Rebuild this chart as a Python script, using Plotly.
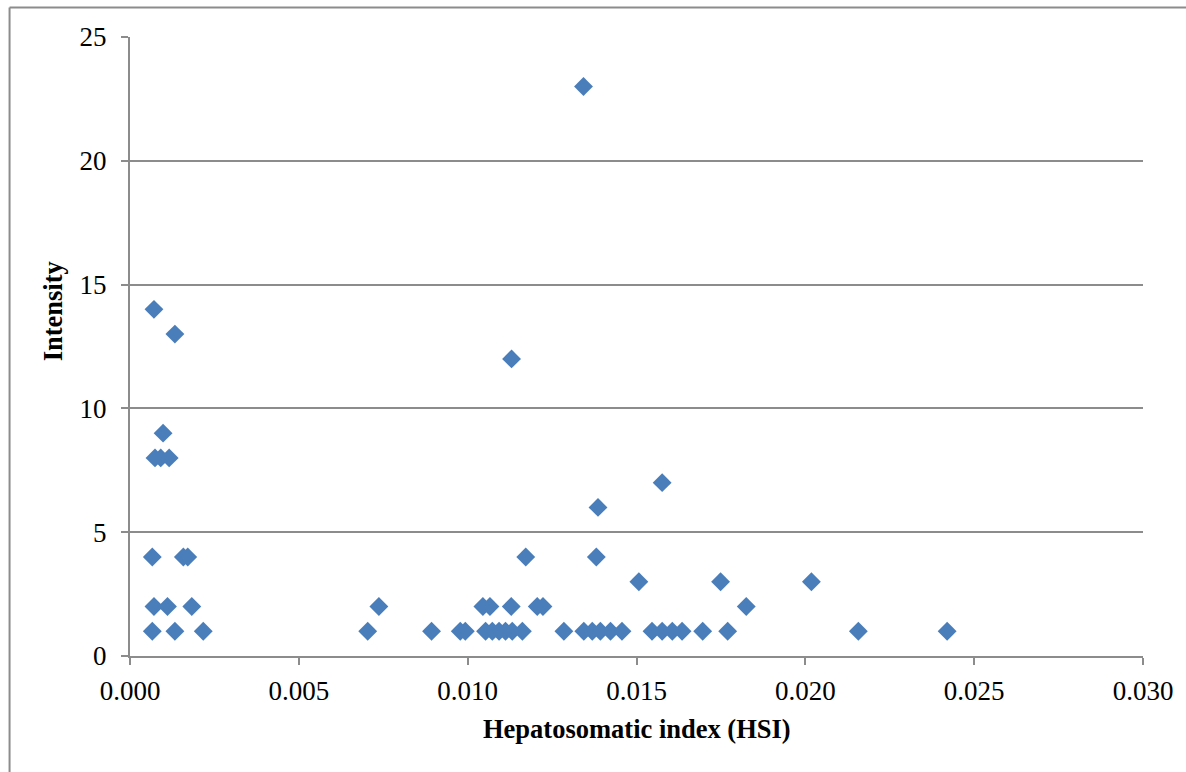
import plotly.graph_objects as go

hsi = [0.00071, 0.00133, 0.00098, 0.00074, 0.00091, 0.00116, 0.00066, 0.00158, 0.00171,
       0.00071, 0.00111, 0.00183, 0.00066, 0.00133, 0.00217,
       0.00704, 0.00737, 0.00893, 0.00978, 0.00993,
       0.01045, 0.01066, 0.01129, 0.01206, 0.01223,
       0.01053, 0.01073, 0.01093, 0.01112, 0.01132, 0.01162,
       0.01130, 0.01172, 0.01285, 0.01343,
       0.01344, 0.01369, 0.01393, 0.01423, 0.01457,
       0.01386, 0.01381, 0.01507,
       0.01546, 0.01576, 0.01606, 0.01635, 0.01576,
       0.01696, 0.01749, 0.01770, 0.01825, 0.02018, 0.02157, 0.02420]
intensity = [14, 13, 9, 8, 8, 8, 4, 4, 4,
             2, 2, 2, 1, 1, 1,
             1, 2, 1, 1, 1,
             2, 2, 2, 2, 2,
             1, 1, 1, 1, 1, 1,
             12, 4, 1, 23,
             1, 1, 1, 1, 1,
             6, 4, 3,
             1, 1, 1, 1, 7,
             1, 3, 1, 2, 3, 1, 1]

x_ticks = [0.000, 0.005, 0.010, 0.015, 0.020, 0.025, 0.030]
x_tick_labels = ["0.000", "0.005", "0.010", "0.015", "0.020", "0.025", "0.030"]
y_ticks = [0, 5, 10, 15, 20, 25]

FONT = "Liberation Serif, Times New Roman, serif"
GRID = "#8c8c8c"

fig = go.Figure()
fig.add_trace(go.Scatter(
    x=hsi, y=intensity, mode="markers",
    marker=dict(symbol="diamond", size=14.5, color="#4a7ebb", line=dict(width=0)),
    showlegend=False,
))

L, R, T, B = 129.5, 43, 37, 115.5
W, H = 1186, 772
pw, ph = W - L - R, H - T - B

def px_x(px):
    return (px - L) / pw

def px_y(py):
    return (H - B - py) / ph

fig.update_layout(
    width=W, height=H,
    margin=dict(l=L, r=R, t=T, b=B, pad=0),
    paper_bgcolor="white", plot_bgcolor="white",
    font=dict(family=FONT, size=27, color="black"),
    xaxis=dict(
        range=[0, 0.030], tickvals=x_ticks, ticktext=x_tick_labels,
        showgrid=False, zeroline=False,
        showline=True, linecolor=GRID, linewidth=2,
        ticks="outside", ticklen=7, tickwidth=2, tickcolor=GRID,
        tickfont=dict(family=FONT, size=27),
        ticklabelstandoff=3,
    ),
    yaxis=dict(
        range=[0, 25], tickvals=y_ticks,
        showgrid=True, gridcolor=GRID, gridwidth=2,
        zeroline=False,
        showline=True, linecolor=GRID, linewidth=2,
        ticks="outside", ticklen=7, tickwidth=2, tickcolor=GRID,
        tickfont=dict(family=FONT, size=27),
        ticklabelstandoff=9,
    ),
    annotations=[
        dict(text="<b>Hepatosomatic index (HSI)</b>", xref="paper", yref="paper",
             x=px_x(636.5), y=px_y(730), showarrow=False,
             font=dict(family=FONT, size=26.5), xanchor="center", yanchor="middle"),
        dict(text="<b>Intensity</b>", xref="paper", yref="paper",
             x=px_x(52), y=px_y(312), showarrow=False, textangle=-90,
             font=dict(family=FONT, size=26.5), xanchor="center", yanchor="middle"),
    ],
    shapes=[
        dict(type="line", xref="paper", yref="paper",
             x0=px_x(9), x1=px_x(1190), y0=px_y(7.5), y1=px_y(7.5),
             line=dict(color=GRID, width=2)),
        dict(type="line", xref="paper", yref="paper",
             x0=px_x(9), x1=px_x(9), y0=px_y(7.5), y1=px_y(780),
             line=dict(color=GRID, width=2)),
    ],
)

fig.write_html("out.html",
               config={"displayModeBar": False},
               post_script="document.body.style.margin='0';document.body.style.overflow='hidden';")
